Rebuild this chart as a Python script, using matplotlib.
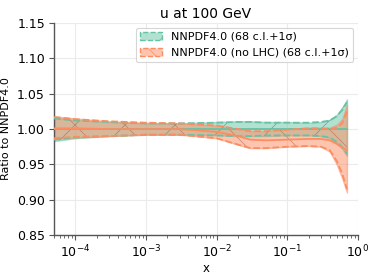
import numpy as np
import matplotlib
matplotlib.use("Agg")
import matplotlib.pyplot as plt
import matplotlib.patches as mpatches
import matplotlib.colors as mcolors

# ---- data ----
x = [5e-5, 1e-4, 3e-4, 1e-3, 3e-3, 1e-2, 2e-2, 3e-2, 5e-2, 1e-1, 2e-1, 3e-1, 4e-1, 5e-1, 6e-1, 0.7]

g_cv = [1.0] * 16
g_hi = [1.016, 1.013, 1.010, 1.008, 1.008, 1.010, 1.011, 1.011, 1.010, 1.010, 1.009, 1.010, 1.013, 1.020, 1.030, 1.042]
g_lo = [0.983, 0.987, 0.990, 0.992, 0.992, 0.991, 0.990, 0.990, 0.990, 0.991, 0.991, 0.990, 0.987, 0.980, 0.972, 0.962]
g_sd_hi = [1.015, 1.012, 1.010, 1.008, 1.008, 1.009, 1.010, 1.010, 1.009, 1.009, 1.009, 1.010, 1.012, 1.018, 1.027, 1.038]
g_sd_lo = [0.985, 0.988, 0.990, 0.992, 0.992, 0.991, 0.990, 0.990, 0.991, 0.991, 0.991, 0.990, 0.988, 0.982, 0.974, 0.965]

o_cv = [1.001, 1.001, 1.000, 1.000, 1.000, 0.996, 0.990, 0.985, 0.984, 0.985, 0.986, 0.986, 0.984, 0.979, 0.974, 0.970]
o_hi = [1.018, 1.015, 1.011, 1.009, 1.008, 1.005, 1.000, 0.997, 0.997, 1.000, 1.002, 1.002, 1.002, 1.006, 1.014, 1.034]
o_lo = [0.986, 0.988, 0.990, 0.992, 0.992, 0.987, 0.978, 0.973, 0.973, 0.975, 0.976, 0.975, 0.968, 0.950, 0.930, 0.910]
o_sd_hi = [1.017, 1.014, 1.011, 1.009, 1.008, 1.005, 1.000, 0.997, 0.997, 0.999, 1.001, 1.001, 1.000, 1.002, 1.008, 1.025]
o_sd_lo = [0.987, 0.989, 0.990, 0.992, 0.992, 0.987, 0.978, 0.973, 0.973, 0.975, 0.976, 0.975, 0.970, 0.955, 0.937, 0.915]

labels = ["NNPDF4.0 (68 c.l.+1σ)", "NNPDF4.0 (no LHC) (68 c.l.+1σ)"]
title = "u at 100 GeV"

# ---- plot ----
green = "#66c2a5"
orange = "#fc8d62"
green_h = "#4f8a78"
orange_h = "#b8694a"

DPI = 150
k = 100.0 / DPI  # scale so sizes look like a 100-dpi figure
plt.rcParams['hatch.linewidth'] = 0.5 * k

fig = plt.figure(figsize=(374 / DPI, 275 / DPI), dpi=DPI)
ax = fig.add_axes([0.1444, 0.1455, 0.8126, 0.7705])

series = [
    (g_cv, g_hi, g_lo, g_sd_hi, g_sd_lo, green, green_h, "/"),
    (o_cv, o_hi, o_lo, o_sd_hi, o_sd_lo, orange, orange_h, "\\"),
]
handles = []
for (cv, hi, lo, sdh, sdl, col, hcol, hatch), lab in zip(series, labels):
    ax.fill_between(x, lo, hi, facecolor=col, edgecolor=col, alpha=0.5,
                    linewidth=1.0 * k, zorder=1)
    ax.fill_between(x, lo, hi, facecolor="none", edgecolor=mcolors.to_rgba(hcol, 0.7),
                    hatch=hatch, linewidth=0, zorder=2)
    ax.plot(x, cv, color=col, lw=1.3 * k, zorder=3)
    ax.plot(x, sdh, color=col, lw=1.3 * k, ls="--", zorder=3)
    ax.plot(x, sdl, color=col, lw=1.3 * k, ls="--", zorder=3)
    handles.append(mpatches.Patch(facecolor=mcolors.to_rgba(col, 0.5),
                                  edgecolor=col, linestyle="--", hatch=hatch,
                                  linewidth=1.0 * k, label=lab))

ax.set_xscale("log")
ax.set_xlim(5e-5, 1.0)
ax.set_ylim(0.85, 1.15)
ax.set_yticks([0.85, 0.90, 0.95, 1.00, 1.05, 1.10, 1.15])
ax.grid(True, which="major", color="#ebebeb", lw=0.8 * k)
ax.set_axisbelow(True)
for s in ["top", "right"]:
    ax.spines[s].set_visible(False)
for s in ["left", "bottom"]:
    ax.spines[s].set_color("#555555")
    ax.spines[s].set_linewidth(1.0 * k)
ax.tick_params(axis="both", which="major", labelsize=9 * k, length=3.5 * k,
               width=0.8 * k, color="#555555", pad=3 * k)
ax.tick_params(axis="x", which="minor", length=2 * k, width=0.6 * k, color="#555555")

ax.set_xlabel("x", fontsize=8.5 * k, labelpad=0.5)
ax.set_ylabel("Ratio to NNPDF4.0", fontsize=8 * k, labelpad=4 * k)
ax.set_title(title, fontsize=10 * k, pad=4 * k)

leg = ax.legend(handles=handles, loc="upper right", fontsize=8 * k, frameon=True,
                handlelength=2.0, borderaxespad=0.4)
leg.get_frame().set_edgecolor("#cccccc")
leg.get_frame().set_linewidth(0.8 * k)

fig.savefig("out.png", dpi=DPI)
